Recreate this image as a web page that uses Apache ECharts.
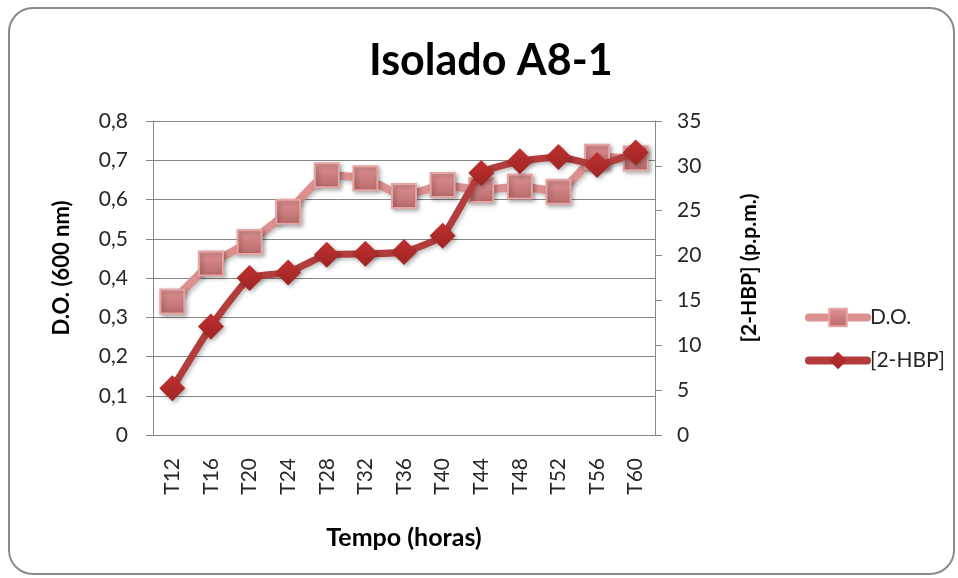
<!DOCTYPE html>
<html>
<head>
<meta charset="utf-8">
<script src="https://cdn.jsdelivr.net/npm/echarts@6/dist/echarts.min.js"></script>
<style>
  html, body { margin: 0; padding: 0; background: #fff; }
  #chart { width: 958px; height: 578px; }
</style>
</head>
<body>
<div id="chart"></div>
<script>
// categorias (tempo)
var categories = ['T12', 'T16', 'T20', 'T24', 'T28', 'T32', 'T36', 'T40', 'T44', 'T48', 'T52', 'T56', 'T60'];
// D.O. (600 nm) - eixo esquerdo
var doValues = [0.34, 0.437, 0.492, 0.569, 0.662, 0.654, 0.609, 0.637, 0.624, 0.633, 0.620, 0.709, 0.705];
// [2-HBP] (p.p.m.) - eixo direito
var hbpValues = [5.2, 12.1, 17.5, 18.1, 20.1, 20.2, 20.4, 22.2, 29.2, 30.5, 31.0, 30.1, 31.5];

var font = 'Lato';
var axisColor = '#868686';
var textColor = '#262626';

var chart = echarts.init(document.getElementById('chart'));

chart.setOption({
  backgroundColor: '#fff',
  animation: false,
  textStyle: { fontFamily: font },
  graphic: [{
    type: 'rect',
    shape: { x: 9, y: 8, width: 945, height: 566, r: 24 },
    style: { fill: 'none', stroke: '#8a8a8a', lineWidth: 2 },
    z: -1
  }],
  title: {
    text: 'Isolado A8-1',
    left: 364,
    top: 35,
    textStyle: { fontFamily: font, fontSize: 43, fontWeight: 'bold', color: '#000' }
  },
  legend: {
    orient: 'vertical',
    left: 800,
    top: 302,
    itemWidth: 58,
    itemHeight: 22,
    itemGap: 22,
    lineStyle: { width: 8, cap: 'round' },
    textStyle: { fontFamily: font, fontSize: 21, color: textColor, padding: [0, 0, 0, -2] },
    data: ['D.O.', '[2-HBP]']
  },
  grid: { left: 153, right: 303, top: 121, bottom: 143 },
  xAxis: {
    type: 'category',
    data: categories,
    boundaryGap: true,
    name: 'Tempo (horas)',
    nameLocation: 'middle',
    nameGap: 90,
    nameTextStyle: { fontFamily: font, fontSize: 25, fontWeight: 'bold', color: '#000' },
    axisLine: { lineStyle: { color: axisColor, width: 1 } },
    axisTick: { alignWithLabel: false, interval: 0, length: 7, lineStyle: { color: axisColor } },
    axisLabel: { rotate: 90, interval: 0, margin: 23, fontSize: 21, color: textColor, fontFamily: font }
  },
  yAxis: [{
    type: 'value',
    min: 0,
    max: 0.8,
    interval: 0.1,
    name: 'D.O. (600 nm)',
    nameLocation: 'middle',
    nameRotate: 90,
    nameGap: 80,
    nameTextStyle: { fontFamily: font, fontSize: 22, fontWeight: 'bold', color: '#000', padding: [0, 0, 0, 20] },
    axisLine: { show: true, lineStyle: { color: axisColor } },
    axisTick: { show: true, length: 7, lineStyle: { color: axisColor } },
    splitLine: { show: true, lineStyle: { color: axisColor, width: 1 } },
    axisLabel: {
      fontSize: 21, color: textColor, fontFamily: font, margin: 25,
      formatter: function (v) { return String(Math.round(v * 10) / 10).replace('.', ','); }
    }
  }, {
    type: 'value',
    min: 0,
    max: 35,
    interval: 5,
    position: 'right',
    name: '[2-HBP] (p.p.m.)',
    nameLocation: 'middle',
    nameRotate: 90,
    nameGap: 84,
    nameTextStyle: { fontFamily: font, fontSize: 21, fontWeight: 'bold', color: '#000', padding: [0, 0, 0, 20] },
    axisLine: { show: true, lineStyle: { color: axisColor } },
    axisTick: { show: true, length: 7, lineStyle: { color: axisColor } },
    splitLine: { show: false },
    axisLabel: { fontSize: 21, color: textColor, fontFamily: font, margin: 22 }
  }],
  series: [{
    name: 'D.O.',
    type: 'line',
    yAxisIndex: 0,
    data: doValues,
    smooth: 0.15,
    symbol: 'rect',
    symbolSize: 24,
    lineStyle: { color: '#dc9090', width: 8, shadowBlur: 4, shadowOffsetX: 2, shadowOffsetY: 2, shadowColor: 'rgba(0,0,0,0.25)' },
    itemStyle: {
      color: new echarts.graphic.LinearGradient(0, 0, 0, 1, [
        { offset: 0, color: '#e29494' },
        { offset: 1, color: '#b76868' }
      ]),
      borderColor: '#e6a5a5',
      borderWidth: 2,
      shadowBlur: 4, shadowOffsetX: 2, shadowOffsetY: 2, shadowColor: 'rgba(0,0,0,0.3)'
    },
    z: 2
  }, {
    name: '[2-HBP]',
    type: 'line',
    yAxisIndex: 1,
    data: hbpValues,
    smooth: 0.15,
    symbol: 'diamond',
    symbolSize: 26,
    lineStyle: { color: '#b33c3c', width: 7, shadowBlur: 4, shadowOffsetX: 2, shadowOffsetY: 2, shadowColor: 'rgba(0,0,0,0.25)' },
    itemStyle: {
      color: new echarts.graphic.LinearGradient(0, 0, 0, 1, [
        { offset: 0, color: '#c03030' },
        { offset: 1, color: '#9e2424' }
      ]),
      shadowBlur: 4, shadowOffsetX: 2, shadowOffsetY: 2, shadowColor: 'rgba(0,0,0,0.3)'
    },
    z: 3
  }]
});
</script>
</body>
</html>
